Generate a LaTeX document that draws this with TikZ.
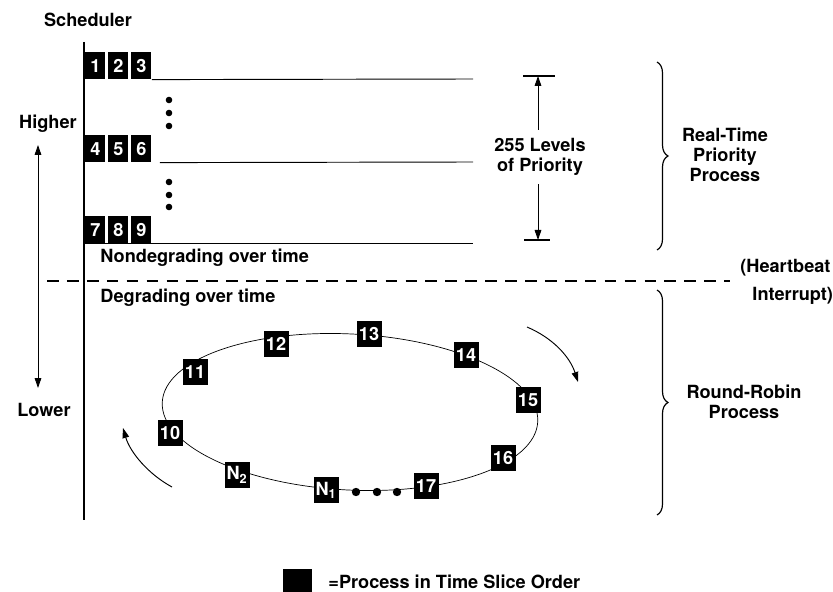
\documentclass[tikz,border=0pt]{standalone}
\usepackage{fontspec}
\setmainfont{TeX Gyre Heros}
\usetikzlibrary{positioning,arrows.meta,decorations.pathreplacing}

\begin{document}
\begin{tikzpicture}[x=0.03cm, y=-0.03cm, line width=0.8pt,
      font=\fontsize{15.5}{17}\selectfont\bfseries,
      p/.style={fill=black, text=white, inner sep=0pt, minimum width=0.6cm, minimum height=0.8cm},
      q/.style={fill=black, text=white, inner sep=0pt, minimum width=0.75cm, minimum height=0.78cm},
      txt/.style={align=center, inner sep=0pt},
      tip/.style={-{Triangle[length=3mm, width=2mm]}}]
    \useasboundingbox (0,0) rectangle (833,592);

    % scheduler axis
    \node[txt] (sch) at (88,20) {Scheduler};
    \coordinate (ax0) at (84,42);
    \coordinate (ax1) at (84,520);
    \draw[line width=1pt] (ax0) -- (ax1);

    % real-time levels
    \node[p, anchor=north west] (p1) at (85,52) {1};
    \node[p, right=0.06cm of p1] (p2) {2};
    \node[p, right=0.06cm of p2] (p3) {3};
    \node[p, anchor=north west] (p4) at (85,135) {4};
    \node[p, right=0.06cm of p4] (p5) {5};
    \node[p, right=0.06cm of p5] (p6) {6};
    \node[p, anchor=north west] (p7) at (85,216) {7};
    \node[p, right=0.06cm of p7] (p8) {8};
    \node[p, right=0.06cm of p8] (p9) {9};
    \coordinate (e1) at (473,79);
    \coordinate (e2) at (473,162);
    \coordinate (e3) at (473,243);
    \draw (p3.south east) -- (e1);
    \draw ([xshift=0.24cm]p6.south east) -- (e2);
    \draw (ax0 |- e3) -- (e3);
    \foreach \y in {100,113,126,182,195,207}
      \fill (169,\y) circle (3.3);

    % higher / lower
    \node[txt] (hi) at (48,124) {Higher};
    \node[txt] (lo) at (44,410) {Lower};
    \coordinate (up) at (38,145);
    \coordinate (dn) at (38,388);
    \draw[{Triangle[length=3mm, width=2mm]}-{Triangle[length=3mm, width=2mm]}] (up) -- (dn);

    % 255 levels
    \node[txt] (lvl) at (540,157) {255 Levels\\of Priority};
    \coordinate (lt) at (538,76);
    \coordinate (lb) at (538,240);
    \draw[line width=1.3pt] ([xshift=-0.45cm]lt) -- ([xshift=0.5cm]lt);
    \draw[line width=1.3pt] ([xshift=-0.42cm]lb) -- ([xshift=0.36cm]lb);
    \draw[tip] ([yshift=0.24cm]lvl.north -| lt) -- (lt);
    \draw[tip] ([yshift=-0.24cm]lvl.south -| lb) -- (lb);

    % braces
    \draw[decorate, decoration={brace, amplitude=0.33cm}, line width=1pt] (657,62) -- (657,250);
    \node[txt] (rt) at (725,155) {Real-Time\\Priority\\Process};
    \draw[decorate, decoration={brace, amplitude=0.33cm}, line width=1pt] (657,290) -- (657,515);
    \node[txt] (rr) at (744,402) {Round-Robin\\Process};

    % heartbeat
    \node[anchor=west, inner sep=0pt] (nd) at (100,258) {Nondegrading over time};
    \draw[line width=1.2pt, dash pattern=on 10pt off 7pt] (47,281) -- (730,281);
    \node[anchor=west, inner sep=0pt] (dg) at (100,298) {Degrading over time};
    \node[anchor=east, inner sep=0pt] (hb) at (831,268) {(Heartbeat};
    \node[anchor=west, inner sep=0pt] (ir) at (752,296) {Interrupt)};

    % round robin
    \draw[line width=0.6pt, rotate around={-3:(350,412)}] (350,412) ellipse [x radius=188, y radius=78];
    \foreach \n/\x/\y in {10/170/433, 11/195/372, 12/276/344, 13/369/334,
                          14/466/355, 15/528/400, 16/503/458, 17/426/486}
      \node[q] (r\n) at (\x,\y) {\n};
    \node[q] (n1) at (326,490) {N\textsubscript{1}};
    \node[q] (n2) at (237,475) {N\textsubscript{2}};
    \foreach \x in {356,377,397}
      \fill (\x,492) circle (4.2);
    \coordinate (cw0) at (527,327);
    \coordinate (cw1) at (578,382);
    \draw[tip] (cw0) .. controls (553,338) and (570,357) .. (cw1);
    \coordinate (ccw0) at (172,487);
    \coordinate (ccw1) at (123,428);
    \draw[tip] (ccw0) .. controls (148,474) and (130,452) .. (ccw1);

    % key
    \node[fill=black, inner sep=0pt, minimum width=0.87cm, minimum height=0.72cm, anchor=north west] (key) at (283,569) {};
    \node[anchor=west, inner sep=0pt, right=0.45cm of key] (keyt) {=Process in Time Slice Order};
  \end{tikzpicture}
\end{document}
